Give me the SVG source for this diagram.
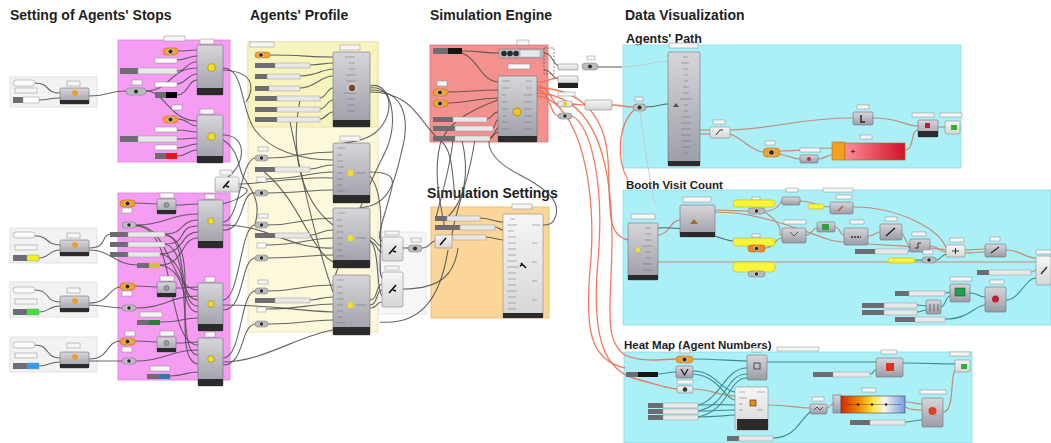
<svg xmlns="http://www.w3.org/2000/svg" width="1051" height="443" viewBox="0 0 1051 443">
<defs>
<linearGradient id="gc" x1="0" y1="0" x2="0" y2="1"><stop offset="0" stop-color="#d6d6da"/><stop offset="1" stop-color="#9c9ca6"/></linearGradient>
<linearGradient id="gw" x1="0" y1="0" x2="0" y2="1"><stop offset="0" stop-color="#f6f6f6"/><stop offset="1" stop-color="#d6d6d6"/></linearGradient>
<linearGradient id="gred" x1="0" y1="0" x2="1" y2="0"><stop offset="0" stop-color="#ff8c98"/><stop offset="1" stop-color="#d0122a"/></linearGradient>
<linearGradient id="gheat" x1="0" y1="0" x2="1" y2="0"><stop offset="0" stop-color="#d42a00"/><stop offset="0.3" stop-color="#f39000"/><stop offset="0.5" stop-color="#ffe640"/><stop offset="0.68" stop-color="#f6f4ec"/><stop offset="1" stop-color="#6f9de6"/></linearGradient>
<style>
.t{font-family:"Liberation Sans",Arial,sans-serif;font-weight:bold;fill:#1e1e1e}
.c{fill:url(#gc);stroke:#6e6e78;stroke-width:.6}
.cw{fill:url(#gw);stroke:#8a8a8a;stroke-width:.6}
.bar{fill:#2b2b2b}
.b{fill:#f6f6f6;stroke:#8c8c8c;stroke-width:.5}
.s{fill:#e8e8e8;stroke:#9a9a9a;stroke-width:.5}
.sk{fill:#6c6c72}
.k{fill:#f2a12c;stroke:#b06a10;stroke-width:.5}
.e{fill:#b9b9c0;stroke:#707078;stroke-width:.5}
.dot{fill:#2e2e2e;stroke:#fff;stroke-width:.6}
.p{fill:#fbfbfb;stroke:#8c8c8c;stroke-width:.5}
.y{fill:#fbf53a;stroke:#b0a820;stroke-width:.5}
.rows{fill:none;stroke:#5c5c64;stroke-width:.8;opacity:.55}
.w{fill:none;stroke:#4b4b4b;stroke-width:1.1;opacity:.85}
.wr{fill:none;stroke:#ef6e52;stroke-width:1.3;opacity:.9}
.wt{fill:none;stroke:#3d8e90;stroke-width:1.1}
.wb{fill:none;stroke:#c38e76;stroke-width:1.2}
.wl{fill:none;stroke:#c4c4c4;stroke-width:.8}
.grp{stroke-width:.8}
</style>
</defs>
<rect width="1051" height="443" fill="#ffffff"/>

<!-- titles -->
<g id="titles">
<text class="t" x="10" y="20" font-size="14">Setting of Agents' Stops</text>
<text class="t" x="250" y="20" font-size="14">Agents' Profile</text>
<text class="t" x="430" y="20" font-size="14">Simulation Engine</text>
<text class="t" x="625" y="20" font-size="14">Data Visualization</text>
<text class="t" x="626" y="43" font-size="12.5">Agents' Path</text>
<text class="t" x="427" y="198" font-size="14">Simulation Settings</text>
<text class="t" x="626" y="189" font-size="11.5">Booth Visit Count</text>
<text class="t" x="624" y="349" font-size="11.5">Heat Map (Agent Numbers)</text>
</g>

<!-- group backgrounds -->
<g id="groups">
<rect class="grp" x="10" y="77" width="87" height="30" fill="#f2f2f2" stroke="#dddddd"/>
<rect class="grp" x="10" y="228" width="87" height="35" fill="#f2f2f2" stroke="#dddddd"/>
<rect class="grp" x="10" y="282" width="87" height="35" fill="#f2f2f2" stroke="#dddddd"/>
<rect class="grp" x="10" y="337" width="87" height="35" fill="#f2f2f2" stroke="#dddddd"/>
<rect class="grp" x="118" y="40" width="112" height="122" fill="#f59cf3" stroke="#e080dc"/>
<rect class="grp" x="118" y="193" width="112" height="187" fill="#f59cf3" stroke="#e080dc"/>
<rect class="grp" x="248" y="42" width="130" height="290" fill="#fbf8dc" stroke="#e6e0a6"/>
<rect class="grp" x="248" y="42" width="130" height="85" fill="#f8f4c0" stroke="#e6e0a6"/>
<rect class="grp" x="378" y="232" width="48" height="82" fill="#f6f6f6" stroke="#e0e0e0"/>
<rect class="grp" x="430" y="45" width="118" height="97" fill="#f3918f" stroke="#e07474"/>
<rect class="grp" x="431" y="207" width="118" height="111" fill="#fcd699" stroke="#e8b860"/>
<rect class="grp" x="623" y="45" width="338" height="123" fill="#abeff7" stroke="#8fdbe6"/>
<rect class="grp" x="623" y="190" width="428" height="135" fill="#abeff7" stroke="#8fdbe6"/>
<rect class="grp" x="624" y="352" width="348" height="91" fill="#abeff7" stroke="#8fdbe6"/>
</g>

<!-- connectors -->
<g id="connectors">
<!-- left groups -->
<path class="w" d="M35,83 C50,83 45,93 60,93"/>
<path class="w" d="M39,100 C50,100 48,98 60,98"/>
<path class="w" d="M89,96 C108,96 108,91 126,91"/>
<path class="w" d="M35,236 C50,236 45,245 60,245"/>
<path class="w" d="M39,258 C50,258 48,250 60,250"/>
<path class="w" d="M89,248 C108,248 100,236 110,234"/>
<path class="w" d="M89,250 C112,250 112,264 137,265"/>
<path class="w" d="M35,290 C50,290 45,302 60,302"/>
<path class="w" d="M39,312 C50,312 48,306 60,306"/>
<path class="w" d="M89,303 C110,303 108,288 120,287"/>
<path class="w" d="M89,305 C105,305 108,308 122,308"/>
<path class="w" d="M35,345 C50,345 45,358 60,358"/>
<path class="w" d="M39,366 C50,366 48,362 60,362"/>
<path class="w" d="M89,359 C110,359 105,342 120,341"/>
<path class="w" d="M89,361 C105,361 108,361 122,361"/>
<!-- top magenta -->
<path class="w" d="M178,51 C188,51 188,50 197,50"/>
<path class="w" d="M177,60 C188,60 188,56 197,56"/>
<path class="w" d="M177,71 C188,71 185,62 197,62"/>
<path class="w" d="M146,91 C170,91 170,68 197,68"/>
<path class="w" d="M177,84 C185,84 188,74 197,74"/>
<path class="w" d="M177,95 C188,95 188,80 197,80"/>
<path class="w" d="M146,91 C165,91 170,121 197,121"/>
<path class="w" d="M178,119 C188,119 188,126 197,126"/>
<path class="w" d="M177,130 C188,130 188,132 197,132"/>
<path class="w" d="M177,139 C188,139 188,138 197,138"/>
<path class="w" d="M177,148 C188,148 188,144 197,144"/>
<path class="w" d="M177,156 C188,156 188,150 197,150"/>
<path class="w" d="M223,68 C245,68 240,110 255,130 C270,150 300,160 333,160"/>
<path class="w" d="M223,70 C262,72 250,96 246,102"/>
<path class="w" d="M223,135 C250,135 246,170 220,182"/>
<path class="w" d="M223,140 C240,150 238,170 244,178 C250,188 262,200 255,225"/>
<path class="w" d="M239,184 C262,184 300,176 333,178"/>
<path class="w" d="M239,187 C258,188 240,200 222,204"/>
<!-- bottom magenta -->
<path class="w" d="M135,203 C150,203 145,204 157,204"/>
<path class="w" d="M176,205 C188,205 186,204 198,204"/>
<path class="w" d="M136,225 C165,225 170,214 198,214"/>
<path class="w" d="M165,234 C185,234 180,220 198,220"/>
<path class="w" d="M165,244 C190,244 175,226 198,226"/>
<path class="w" d="M160,254 C185,254 180,232 198,232"/>
<path class="w" d="M160,265 C185,265 180,238 198,238"/>
<path class="w" d="M165,234 C190,240 175,300 198,300"/>
<path class="w" d="M165,244 C195,250 175,355 198,355"/>
<path class="w" d="M160,254 C190,260 180,306 198,306"/>
<path class="w" d="M165,235 C205,240 168,360 198,364"/>
<path class="w" d="M160,265 C190,270 180,312 198,312"/>
<path class="w" d="M136,225 C170,225 170,290 198,290"/>
<path class="w" d="M136,226 C178,226 165,345 198,345"/>
<path class="w" d="M135,286 C150,286 145,287 157,287"/>
<path class="w" d="M176,288 C188,288 186,287 198,287"/>
<path class="w" d="M136,308 C165,308 170,296 198,296"/>
<path class="w" d="M160,322 C185,322 180,318 198,318"/>
<path class="w" d="M135,341 C150,341 145,342 157,342"/>
<path class="w" d="M176,343 C188,343 188,342 198,342"/>
<path class="w" d="M136,361 C165,361 170,350 198,350"/>
<path class="w" d="M170,376 C185,376 185,372 198,372"/>
<path class="w" d="M223,222 C240,222 240,160 255,158"/>
<path class="w" d="M223,225 C270,225 290,250 333,248"/>
<path class="w" d="M223,305 C270,305 290,310 333,312"/>
<path class="w" d="M223,362 C262,362 300,335 333,330"/>
<path class="w" d="M223,300 C240,300 240,226 255,225"/>
<path class="w" d="M223,358 C242,358 240,292 255,291"/>
<path class="w" d="M223,230 C245,232 240,190 255,193"/>
<path class="w" d="M223,310 C245,310 240,260 255,258"/>
<path class="w" d="M223,365 C245,365 240,326 255,324"/>
<!-- profile -->
<path class="w" d="M270,55 C300,55 310,57 333,57"/>
<path class="w" d="M310,65 C320,65 325,63 333,63"/>
<path class="w" d="M300,76 C318,76 322,69 333,69"/>
<path class="w" d="M300,88 C315,88 320,76 333,76"/>
<path class="w" d="M320,98 C326,98 327,88 333,88"/>
<path class="w" d="M320,109 C326,109 327,100 333,100"/>
<path class="w" d="M320,119 C326,119 327,112 333,112"/>
<path class="w" d="M370,88 C395,85 395,120 372,135 C355,145 345,140 333,147"/>
<path class="w" d="M370,90 C405,90 410,120 402,150 C396,175 392,200 370,206 C350,210 345,212 333,213"/>
<path class="w" d="M370,86 C390,80 400,120 386,150 C380,165 372,170 333,282"/>
<path class="w" d="M268,158 C300,158 300,152 333,152"/>
<path class="w" d="M310,169 C320,169 320,165 333,165"/>
<path class="w" d="M266,179 C300,179 310,172 333,172"/>
<path class="w" d="M268,193 C300,193 310,190 333,190"/>
<path class="w" d="M268,225 C300,225 300,218 333,218"/>
<path class="w" d="M310,235 C320,235 320,230 333,230"/>
<path class="w" d="M266,245 C300,245 310,238 333,238"/>
<path class="w" d="M268,258 C300,258 310,255 333,255"/>
<path class="w" d="M268,291 C300,291 300,285 333,285"/>
<path class="w" d="M310,300 C320,300 320,297 333,297"/>
<path class="w" d="M266,309 C300,309 310,304 333,304"/>
<path class="w" d="M268,324 C300,324 310,320 333,320"/>
<path class="w" d="M290,122 C300,170 318,250 333,292"/>
<path class="w" d="M300,100 C290,150 300,200 333,225"/>
<path class="w" d="M262,170 C300,200 310,250 333,262"/>
<path class="w" d="M370,172 C395,172 395,180 390,195 C385,215 375,240 382,241"/>
<path class="w" d="M370,238 C376,238 376,246 382,246"/>
<path class="w" d="M370,242 C378,242 376,252 382,252"/>
<path class="w" d="M370,305 C378,305 376,290 382,290"/>
<path class="w" d="M370,300 C378,300 376,284 382,284"/>
<path class="w" d="M370,176 C390,200 375,270 382,278"/>
<path class="w" d="M370,240 C380,250 376,290 382,296"/>
<path class="w" d="M370,308 C378,308 376,302 382,302"/>
<path class="w" d="M403,248 C405,248 406,248 408,248"/>
<path class="w" d="M422,248 C430,248 430,241 435,241"/>
<path class="w" d="M403,289 C445,289 455,270 458,248"/>
<path class="w" d="M380,322 C420,325 440,300 448,250"/>
<path class="w" d="M370,92 C415,92 420,125 440,140 C450,148 452,160 455,200"/>
<!-- engine / settings -->
<path class="w" d="M462,51 C480,51 485,53 499,53"/>
<path class="w" d="M460,52 C480,60 480,80 498,82"/>
<path class="w" d="M448,92 C470,92 475,90 498,90"/>
<path class="w" d="M448,103 C470,103 475,98 498,98"/>
<path class="w" d="M487,119 C492,119 492,112 498,112"/>
<path class="w" d="M493,128 C495,128 495,120 498,120"/>
<path class="w" d="M490,138 C495,138 495,128 498,128"/>
<path class="w" d="M544,53 C552,53 552,62 558,66"/>
<path class="w" d="M544,70 C552,70 552,78 558,79"/>
<path class="w" d="M453,140 C450,170 440,200 436,218"/>
<path class="w" d="M462,140 C470,175 465,200 447,218"/>
<path class="w" d="M475,138 C470,180 455,210 452,235"/>
<path class="w" d="M498,100 C470,110 445,125 440,145 C434,170 438,195 445,228"/>
<path class="w" d="M498,132 C480,140 490,160 520,175 C545,188 560,200 556,215 C553,225 548,225 543,225"/>
<path class="w" d="M480,218 C490,218 495,222 503,222"/>
<path class="w" d="M495,227 C498,227 500,230 503,230"/>
<path class="w" d="M486,237 C494,237 496,240 503,240"/>
<path class="w" d="M598,67 C610,67 615,67 622,67"/>
<path class="wl" d="M622,67 C650,66 655,60 668,62"/>
<path class="wl" d="M640,112 C645,150 650,180 655,205"/>
<!-- red engine outputs -->
<path class="wr" d="M537,82 C548,82 550,78 558,78"/>
<path class="wr" d="M537,86 C550,86 552,104 558,104"/>
<path class="wr" d="M537,90 C550,90 550,115 558,116"/>
<path class="wr" d="M572,104 C578,104 580,105 585,105"/>
<path class="wr" d="M612,105 C620,105 625,107 633,107"/>
<path class="wr" d="M537,88 C575,88 605,110 608,160 C611,205 605,235 628,240"/>
<path class="wr" d="M537,93 C590,95 612,150 612,240 C612,300 602,340 625,355 C640,362 660,360 676,359"/>
<path class="wr" d="M572,116 C590,125 605,180 598,260 C592,330 600,372 640,380 C655,384 665,388 677,389"/>
<path class="wr" d="M537,96 C580,100 598,190 590,270 C585,330 590,360 625,368" opacity=".55"/>
<path class="wr" d="M634,110 C618,125 616,160 628,180" opacity=".35"/>
<!-- agents' path -->
<path class="w" d="M646,107 C658,107 660,104 668,104"/>
<path class="wb" d="M700,130 C705,130 705,130 710,130"/>
<path class="wb" d="M700,134 C705,134 705,134 710,134"/>
<path class="wb" d="M730,130 C780,128 800,118 853,118"/>
<path class="wb" d="M730,134 C745,140 750,150 763,152"/>
<path class="wb" d="M780,151 C800,151 815,148 832,148"/>
<path class="wb" d="M780,154 C795,158 795,159 800,159"/>
<path class="wb" d="M818,159 C825,159 826,155 832,155"/>
<path class="wb" d="M873,118 C900,118 905,126 918,126"/>
<path class="wb" d="M905,150 C915,150 910,130 918,130"/>
<path class="wb" d="M938,127 C942,127 942,127 945,127"/>
<!-- booth -->
<path class="wb" d="M657,235 C670,235 670,220 680,220"/>
<path class="wb" d="M657,262 C800,262 900,262 1036,262"/>
<path class="wb" d="M715,210 C730,210 735,211 748,211"/>
<path class="wb" d="M715,212 C760,212 800,230 830,240 C850,245 920,245 946,250"/>
<path class="wb" d="M765,211 C780,211 780,201 782,201"/>
<path class="wb" d="M800,201 C815,201 815,207 830,207"/>
<path class="wb" d="M765,212 C790,230 775,235 782,235"/>
<path class="wb" d="M765,248 C775,248 775,238 782,238"/>
<path class="wb" d="M806,235 C812,235 812,228 817,228"/>
<path class="wb" d="M835,227 C840,227 840,235 844,235"/>
<path class="wb" d="M853,207 C900,207 940,230 946,248"/>
<path class="wb" d="M868,236 C875,236 875,232 880,232"/>
<path class="wb" d="M900,232 C905,232 905,245 910,245"/>
<path class="wt" d="M908,251 C915,251 905,245 910,247"/>
<path class="wb" d="M930,246 C938,246 940,252 946,252"/>
<path class="wt" d="M936,260 C940,260 942,255 946,254"/>
<path class="wt" d="M915,260 C918,260 919,260 922,260"/>
<path class="wb" d="M965,250 C975,250 975,249 985,249"/>
<path class="wb" d="M965,253 C975,253 975,252 985,252"/>
<path class="wb" d="M1006,250 C1020,250 1025,258 1036,258"/>
<path class="wb" d="M1031,272 C1034,272 1034,270 1036,270"/>
<path class="wt" d="M970,293 C978,293 978,297 985,297"/>
<path class="wt" d="M1006,300 C1020,300 1025,278 1036,278"/>
<path class="wt" d="M945,293 C948,293 948,292 950,292"/>
<path class="wt" d="M917,305 C922,305 922,306 926,306"/>
<path class="wt" d="M917,312 C922,312 922,310 926,310"/>
<path class="wt" d="M941,307 C945,307 946,296 950,296"/>
<path class="wt" d="M945,319 C970,319 975,305 985,305"/>
<path class="w" d="M657,228 C700,226 720,240 733,241"/>
<!-- heat map -->
<path class="wt" d="M693,359 C720,359 730,361 747,361"/>
<path class="wt" d="M767,362 C820,362 850,362 876,362"/>
<path class="wt" d="M903,363 C930,363 940,364 955,364"/>
<path class="wt" d="M693,371 C715,371 720,390 735,392"/>
<path class="wt" d="M693,374 C720,376 725,400 735,400"/>
<path class="wt" d="M658,374 C665,374 668,372 676,372"/>
<path class="wb" d="M693,389 C710,389 720,396 735,396"/>
<path class="wt" d="M698,405 C715,405 720,404 735,405"/>
<path class="wt" d="M698,411 C715,411 720,410 735,410"/>
<path class="wt" d="M698,417 C715,417 720,416 735,415"/>
<path class="wt" d="M698,405 C720,400 725,368 747,368"/>
<path class="wt" d="M698,411 C728,405 725,374 747,374"/>
<path class="wt" d="M698,417 C730,410 728,378 747,378"/>
<path class="wb" d="M768,405 C790,405 795,408 810,408"/>
<path class="wt" d="M773,438 C795,438 800,420 810,412"/>
<path class="wb" d="M827,408 C830,408 830,404 833,404"/>
<path class="wb" d="M905,402 C915,402 915,404 922,404"/>
<path class="wb" d="M905,407 C912,410 915,410 922,410"/>
<path class="wt" d="M870,374 C875,374 872,370 876,370"/>
<path class="wt" d="M905,422 C912,422 915,420 922,420"/>
<path class="wb" d="M943,412 C955,412 950,375 955,370"/>
</g>

<!-- ===== Setting of Agents' Stops ===== -->
<g id="stops-colour-a">
<rect class="p" x="13" y="80" width="22" height="6" rx="3"/>
<rect class="b" x="15" y="88" width="22" height="5"/>
<rect class="sk" x="13" y="97" width="10" height="6"/><rect x="23" y="97" width="16" height="6" fill="#ffffff" stroke="#999" stroke-width=".5"/>
<rect class="b" x="67" y="81" width="13" height="5"/>
<rect class="c" x="60" y="88" width="29" height="16" rx="1.5"/><rect class="bar" x="60" y="100" width="29" height="4"/>
<circle cx="75" cy="93" r="3" fill="#f0a030"/>
</g>
<g id="stops-colour-b">
<rect class="p" x="13" y="232" width="22" height="6" rx="3"/>
<rect class="b" x="15" y="245" width="22" height="5"/>
<rect class="sk" x="13" y="255" width="14" height="6"/><rect x="27" y="255" width="12" height="6" fill="#f3f020" stroke="#999" stroke-width=".5"/>
<rect class="b" x="67" y="233" width="13" height="5"/>
<rect class="c" x="60" y="240" width="29" height="16" rx="1.5"/><rect class="bar" x="60" y="252" width="29" height="4"/>
<circle cx="75" cy="245" r="3" fill="#f0a030"/>
</g>
<g id="stops-colour-c">
<rect class="p" x="13" y="287" width="22" height="6" rx="3"/>
<rect class="b" x="15" y="299" width="22" height="5"/>
<rect class="sk" x="13" y="309" width="14" height="6"/><rect x="27" y="309" width="12" height="6" fill="#3de23d" stroke="#999" stroke-width=".5"/>
<rect class="b" x="67" y="288" width="13" height="5"/>
<rect class="c" x="60" y="296" width="29" height="16" rx="1.5"/><rect class="bar" x="60" y="308" width="29" height="4"/>
<circle cx="75" cy="301" r="3" fill="#f0a030"/>
</g>
<g id="stops-colour-d">
<rect class="p" x="13" y="342" width="22" height="6" rx="3"/>
<rect class="b" x="15" y="353" width="22" height="5"/>
<rect class="sk" x="13" y="363" width="14" height="6"/><rect x="27" y="363" width="12" height="6" fill="#2f9cf0" stroke="#999" stroke-width=".5"/>
<rect class="b" x="67" y="343" width="13" height="5"/>
<rect class="c" x="60" y="352" width="29" height="16" rx="1.5"/><rect class="bar" x="60" y="364" width="29" height="4"/>
<circle cx="75" cy="357" r="3" fill="#f0a030"/>
</g>

<g id="stops-top">
<rect class="b" x="164" y="36" width="21" height="5"/>
<rect class="k" x="163" y="48" width="15" height="7" rx="3.5"/><circle class="dot" cx="170.5" cy="51.5" r="2.5"/>
<rect class="p" x="155" y="58" width="22" height="5"/>
<rect class="sk" x="120" y="68" width="18" height="6"/><rect class="s" x="138" y="68" width="39" height="6"/>
<rect class="b" x="132" y="80" width="10" height="5"/>
<rect class="e" x="126" y="88" width="20" height="7" rx="3.5"/><circle class="dot" cx="136" cy="91.5" r="2.5"/>
<rect class="p" x="155" y="82" width="22" height="5"/>
<rect class="sk" x="155" y="92" width="11" height="6"/><rect x="166" y="92" width="11" height="6" fill="#000"/>
<rect class="b" x="200" y="39" width="14" height="5"/>
<rect class="c" x="197" y="45" width="26" height="50" rx="1.5"/><rect class="bar" x="197" y="88" width="26" height="7"/>
<rect x="208" y="64" width="7" height="7" rx="2" fill="#f5e020" stroke="#8a7a10" stroke-width=".5"/>
<rect class="b" x="172" y="105" width="10" height="5"/>
<rect class="k" x="163" y="116" width="15" height="7" rx="3.5"/><circle class="dot" cx="170.5" cy="119.5" r="2.5"/>
<rect class="p" x="155" y="127" width="22" height="5"/>
<rect class="sk" x="120" y="136" width="18" height="6"/><rect class="s" x="138" y="136" width="39" height="6"/>
<rect class="p" x="155" y="145" width="22" height="5"/>
<rect class="sk" x="155" y="153" width="11" height="6"/><rect x="166" y="153" width="11" height="6" fill="#e8141e"/>
<rect class="b" x="200" y="109" width="14" height="5"/>
<rect class="c" x="197" y="115" width="26" height="48" rx="1.5"/><rect class="bar" x="197" y="156" width="26" height="7"/>
<rect x="208" y="133" width="7" height="7" rx="2" fill="#f5e020" stroke="#8a7a10" stroke-width=".5"/>
</g>

<g id="stops-merge">
<rect class="b" x="220" y="170" width="12" height="5"/>
<rect class="cw" x="215" y="177" width="24" height="15" rx="1.5"/>
<path d="M223,188 L229,181 M226,186 l3,1" stroke="#111" stroke-width="1.6" fill="none"/>
</g>

<g id="stops-bottom">
<rect class="k" x="120" y="200" width="15" height="7" rx="3.5"/><circle class="dot" cx="127.5" cy="203.5" r="2.5"/>
<rect class="p" x="122" y="208" width="10" height="5"/>
<rect class="b" x="160" y="193" width="14" height="5"/>
<rect class="c" x="157" y="199" width="19" height="15" rx="1.5"/><rect class="bar" x="157" y="210" width="19" height="4"/>
<circle cx="166.5" cy="205" r="2.5" fill="#9a9aa6" stroke="#555" stroke-width=".5"/>
<rect class="e" x="122" y="222" width="14" height="6" rx="3"/><circle class="dot" cx="129" cy="225" r="2.2"/>
<rect class="sk" x="110" y="232" width="18" height="5"/><rect class="s" x="128" y="232" width="37" height="5"/>
<rect class="sk" x="110" y="242" width="18" height="5"/><rect class="s" x="128" y="242" width="37" height="5"/>
<rect class="sk" x="110" y="252" width="18" height="5"/><rect class="s" x="128" y="252" width="32" height="5"/>
<rect class="sk" x="137" y="263" width="12" height="5"/><rect x="149" y="263" width="11" height="5" fill="#cfc040"/>
<rect class="b" x="205" y="194" width="10" height="5"/>
<rect class="c" x="198" y="200" width="25" height="48" rx="1.5"/><rect class="bar" x="198" y="241" width="25" height="7"/>
<rect x="208" y="218" width="6" height="6" rx="2" fill="#f5e020" stroke="#8a7a10" stroke-width=".5"/>

<rect class="k" x="120" y="283" width="15" height="7" rx="3.5"/><circle class="dot" cx="127.5" cy="286.5" r="2.5"/>
<rect class="p" x="122" y="291" width="10" height="5"/>
<rect class="b" x="160" y="276" width="14" height="5"/>
<rect class="c" x="157" y="282" width="19" height="15" rx="1.5"/><rect class="bar" x="157" y="293" width="19" height="4"/>
<circle cx="166.5" cy="288" r="2.5" fill="#9a9aa6" stroke="#555" stroke-width=".5"/>
<rect class="e" x="122" y="305" width="14" height="6" rx="3"/><circle class="dot" cx="129" cy="308" r="2.2"/>
<rect class="b" x="140" y="312" width="22" height="5"/>
<rect class="sk" x="137" y="320" width="12" height="5"/><rect x="149" y="320" width="11" height="5" fill="#2b7a35"/>
<rect class="b" x="205" y="277" width="10" height="5"/>
<rect class="c" x="198" y="283" width="25" height="48" rx="1.5"/><rect class="bar" x="198" y="324" width="25" height="7"/>
<rect x="208" y="301" width="6" height="6" rx="2" fill="#f5e020" stroke="#8a7a10" stroke-width=".5"/>

<rect class="b" x="125" y="331" width="10" height="5"/>
<rect class="k" x="120" y="338" width="15" height="7" rx="3.5"/><circle class="dot" cx="127.5" cy="341.5" r="2.5"/>
<rect class="p" x="122" y="347" width="10" height="5"/>
<rect class="b" x="160" y="331" width="14" height="5"/>
<rect class="c" x="157" y="337" width="19" height="15" rx="1.5"/><rect class="bar" x="157" y="348" width="19" height="4"/>
<circle cx="166.5" cy="343" r="2.5" fill="#9a9aa6" stroke="#555" stroke-width=".5"/>
<rect class="e" x="122" y="358" width="14" height="6" rx="3"/><circle class="dot" cx="129" cy="361" r="2.2"/>
<rect class="b" x="150" y="366" width="20" height="5"/>
<rect class="sk" x="147" y="374" width="12" height="5"/><rect x="159" y="374" width="11" height="5" fill="#2a7fa8"/>
<rect class="b" x="205" y="332" width="10" height="5"/>
<rect class="c" x="198" y="338" width="25" height="48" rx="1.5"/><rect class="bar" x="198" y="379" width="25" height="7"/>
<rect x="208" y="356" width="6" height="6" rx="2" fill="#f5e020" stroke="#8a7a10" stroke-width=".5"/>
</g>

<!-- ===== Agents' Profile ===== -->
<g id="profile-inputs">
<rect class="b" x="250" y="42" width="24" height="5"/>
<rect class="k" x="255" y="52" width="15" height="6" rx="3"/><circle class="dot" cx="261" cy="55" r="2.3"/>
<rect class="sk" x="255" y="63" width="20" height="5"/><rect class="s" x="275" y="63" width="35" height="5"/>
<rect class="sk" x="255" y="74" width="12" height="5"/><rect class="s" x="267" y="74" width="33" height="5"/>
<rect class="sk" x="255" y="86" width="14" height="5"/><rect class="s" x="269" y="86" width="31" height="5"/>
<rect class="sk" x="255" y="96" width="22" height="5"/><rect class="s" x="277" y="96" width="43" height="5"/>
<rect class="sk" x="255" y="107" width="22" height="5"/><rect class="s" x="277" y="107" width="43" height="5"/>
<rect class="sk" x="255" y="117" width="22" height="5"/><rect class="s" x="277" y="117" width="43" height="5"/>
</g>
<g id="profile-comp-1">
<rect class="b" x="340" y="45" width="20" height="5"/>
<rect class="c" x="333" y="52" width="37" height="75" rx="1.5"/><rect class="bar" x="333" y="120" width="37" height="7"/>
<path class="rows" d="M345,57h10M349,63h6M349,69h6M346,75h10M346,81h10M348,87h5M344,93h12M348,99h6M348,105h6M347,111h8"/>
<circle cx="352" cy="88" r="4" fill="#7a4a28" stroke="#fff" stroke-width=".8"/>
</g>
<g id="profile-stop-inputs">
<rect class="b" x="258" y="147" width="10" height="4"/>
<rect class="e" x="255" y="155" width="13" height="6" rx="3"/><circle class="dot" cx="261.5" cy="158" r="2.2"/>
<rect class="sk" x="255" y="167" width="20" height="5"/><rect class="s" x="275" y="167" width="35" height="5"/>
<rect class="p" x="257" y="177" width="9" height="5"/>
<rect class="e" x="255" y="190" width="13" height="6" rx="3"/><circle class="dot" cx="261.5" cy="193" r="2.2"/>
<rect class="b" x="258" y="214" width="10" height="4"/>
<rect class="e" x="255" y="222" width="13" height="6" rx="3"/><circle class="dot" cx="261.5" cy="225" r="2.2"/>
<rect class="sk" x="255" y="233" width="20" height="5"/><rect class="s" x="275" y="233" width="35" height="5"/>
<rect class="p" x="257" y="243" width="9" height="5"/>
<rect class="e" x="255" y="255" width="13" height="6" rx="3"/><circle class="dot" cx="261.5" cy="258" r="2.2"/>
<rect class="b" x="258" y="280" width="10" height="4"/>
<rect class="e" x="255" y="288" width="13" height="6" rx="3"/><circle class="dot" cx="261.5" cy="291" r="2.2"/>
<rect class="sk" x="255" y="298" width="20" height="5"/><rect class="s" x="275" y="298" width="35" height="5"/>
<rect class="p" x="257" y="307" width="9" height="5"/>
<rect class="e" x="255" y="321" width="13" height="6" rx="3"/><circle class="dot" cx="261.5" cy="324" r="2.2"/>
</g>
<g id="profile-comp-2">
<rect class="b" x="340" y="136" width="20" height="5"/>
<rect class="c" x="333" y="143" width="37" height="60" rx="1.5"/><rect class="bar" x="333" y="195" width="37" height="8"/>
<path class="rows" d="M337,148h8M337,155h5M337,161h6M337,167h7M337,173h6M337,179h6M337,185h5M337,191h8M356,173h10"/>
<rect x="348" y="170" width="5" height="6" rx="1.5" fill="#f5e020"/>
</g>
<g id="profile-comp-3">
<rect class="c" x="333" y="208" width="37" height="60" rx="1.5"/><rect class="bar" x="333" y="260" width="37" height="8"/>
<path class="rows" d="M337,213h8M337,220h5M337,226h6M337,232h7M337,238h6M337,244h6M337,250h5M337,256h8M356,238h10"/>
<rect x="348" y="235" width="5" height="6" rx="1.5" fill="#f5e020"/>
</g>
<g id="profile-comp-4">
<rect class="c" x="333" y="275" width="37" height="60" rx="1.5"/><rect class="bar" x="333" y="327" width="37" height="8"/>
<path class="rows" d="M337,280h8M337,287h5M337,293h6M337,299h7M337,305h6M337,311h6M337,317h5M337,323h8M356,305h10"/>
<rect x="348" y="302" width="5" height="6" rx="1.5" fill="#f5e020"/>
</g>
<g id="merge-1">
<rect class="b" x="385" y="231" width="14" height="4"/>
<rect class="cw" x="382" y="237" width="21" height="24" rx="1.5"/>
<path d="M389,254 L396,246 M393,251 l3,1" stroke="#111" stroke-width="1.6" fill="none"/>
</g>
<g id="merge-2">
<rect class="b" x="385" y="266" width="14" height="4"/>
<rect class="cw" x="382" y="272" width="21" height="35" rx="1.5"/>
<path d="M389,293 L396,285 M393,290 l3,1" stroke="#111" stroke-width="1.6" fill="none"/>
</g>
<g id="merge-out">
<rect class="b" x="411" y="238" width="10" height="4"/>
<rect class="e" x="408" y="245" width="14" height="7" rx="3.5"/><circle class="dot" cx="415" cy="248.5" r="2.5"/>
</g>

<!-- ===== Simulation Engine ===== -->
<g id="engine-inputs">
<rect class="sk" x="433" y="48" width="15" height="6" fill="#777"/><rect x="448" y="48" width="14" height="6" fill="#151515"/>
<rect class="b" x="517" y="40" width="12" height="5"/>
<rect class="e" x="499" y="49" width="45" height="9" rx="2"/>
<circle cx="504" cy="53.5" r="2.8" fill="#2a2a2a"/><circle cx="510" cy="53.5" r="2.8" fill="#2a2a2a"/><circle cx="516" cy="53.5" r="2.8" fill="#2a2a2a"/>
<rect class="s" x="520" y="50" width="20" height="7"/>
<rect class="b" x="437" y="81" width="10" height="5"/>
<rect class="k" x="433" y="89" width="15" height="7" rx="3.5"/><circle class="dot" cx="440" cy="92.5" r="2.5"/>
<rect class="k" x="433" y="100" width="15" height="7" rx="3.5"/><circle class="dot" cx="440" cy="103.5" r="2.5"/>
<rect class="sk" x="433" y="117" width="20" height="5"/><rect class="s" x="453" y="117" width="34" height="5"/>
<rect class="sk" x="433" y="126" width="22" height="5"/><rect class="s" x="455" y="126" width="38" height="5"/>
<rect class="sk" x="433" y="136" width="22" height="5"/><rect class="s" x="455" y="136" width="35" height="5"/>
</g>
<g id="engine-core">
<rect class="b" x="508" y="64" width="22" height="5"/>
<rect class="c" x="498" y="76" width="39" height="66" rx="1.5"/><rect class="bar" x="498" y="136" width="39" height="6"/>
<path class="rows" d="M502,81h8M502,88h7M502,95h4M502,102h5M502,109h6M502,116h4M502,122h6M502,129h7M526,81h6M526,88h5M524,95h8M524,102h8M524,109h8M524,116h8M524,122h8M524,129h8"/>
<circle cx="517" cy="112" r="4" fill="#f5c518" stroke="#8a6a00" stroke-width=".5"/>
</g>
<g id="engine-outputs">
<rect x="544" y="48" width="10" height="26" fill="none" stroke="#555" stroke-width=".7" stroke-dasharray="2,1.5"/>
<rect class="cw" x="558" y="64" width="20" height="6" rx="1"/>
<rect class="b" x="587" y="56" width="8" height="4"/>
<rect class="e" x="582" y="63" width="16" height="7" rx="3.5"/><circle class="dot" cx="590" cy="66.5" r="2.5"/>
<rect class="cw" x="558" y="76" width="20" height="7" rx="1"/><rect x="558" y="83" width="20" height="5" fill="#222"/>
<rect class="b" x="558" y="92" width="17" height="4"/>
<rect class="cw" x="558" y="101" width="14" height="6" rx="1"/><rect x="563" y="102" width="4" height="4" fill="#e8d020"/>
<rect class="cw" x="585" y="100" width="27" height="10" rx="1"/>
<rect class="e" x="558" y="113" width="14" height="6" rx="3"/><circle class="dot" cx="565" cy="116" r="2.2"/>
</g>

<!-- ===== Simulation Settings ===== -->
<g id="settings-inputs">
<rect class="sk" x="435" y="216" width="12" height="5"/><rect class="s" x="447" y="216" width="33" height="5"/>
<rect class="sk" x="435" y="225" width="25" height="5"/><rect class="s" x="460" y="225" width="35" height="5"/>
<rect class="cw" x="435" y="235" width="17" height="13" rx="1"/>
<path d="M440,245 L446,238" stroke="#111" stroke-width="1.5"/>
<rect class="s" x="453" y="235" width="33" height="5"/>
</g>
<g id="settings-core">
<rect class="b" x="512" y="204" width="20" height="5"/>
<rect class="cw" x="503" y="214" width="40" height="104" rx="1.5"/><rect class="bar" x="503" y="313" width="40" height="5"/>
<path class="rows" d="M510,219h5M507,225h10M508,231h6M508,237h8M508,243h8M508,249h8M508,255h8M507,261h10M507,267h12M508,273h8M508,279h8M508,285h8M507,291h10M508,297h8M508,303h8M508,309h8M532,225h8M532,243h5M532,262h5M532,281h5M532,300h5"/>
<path d="M521,263 l5,5 M520,266 l3,-2" stroke="#111" stroke-width="1.6" fill="none"/>
</g>

<!-- ===== Agents' Path ===== -->
<g id="path-deconstruct">
<rect class="b" x="669" y="43" width="29" height="5"/>
<rect class="c" x="668" y="52" width="32" height="114" rx="1.5"/><rect class="bar" x="668" y="161" width="32" height="5"/>
<path class="rows" d="M683,57h5M681,63h8M683,69h5M684,75h4M684,81h4M683,87h6M683,93h6M680,99h12M684,105h4M684,111h4M682,117h8M681,123h10M681,129h10M681,135h10M682,141h8M682,147h8M684,153h4"/>
<path d="M673,107 l3,-4 l3,4 z" fill="#555"/>
</g>
<g id="path-input">
<rect class="b" x="635" y="97" width="8" height="4"/>
<rect class="e" x="633" y="104" width="13" height="7" rx="3.5"/><circle class="dot" cx="639.5" cy="107.5" r="2.5"/>
</g>
<g id="path-nodes">
<rect class="b" x="713" y="120" width="12" height="4"/>
<rect class="cw" x="710" y="127" width="20" height="11" rx="1.5"/>
<path d="M716,135 l4,-5 h3" stroke="#333" stroke-width="1" fill="none"/>
<rect class="b" x="857" y="105" width="12" height="4"/>
<rect class="c" x="853" y="112" width="20" height="13" rx="1.5"/>
<path d="M861,115 v7 h4" stroke="#222" stroke-width="1.4" fill="none"/>
<rect class="b" x="765" y="141" width="10" height="4"/>
<rect class="k" x="763" y="148" width="17" height="9" rx="4"/><circle class="dot" cx="771.5" cy="152.5" r="2.8"/>
<rect class="b" x="800" y="148" width="20" height="4"/>
<rect class="c" x="800" y="155" width="18" height="8" rx="1.5"/><circle cx="809" cy="159" r="2" fill="#c03040"/>
<rect class="b" x="860" y="135" width="12" height="4"/>
<rect x="832" y="142" width="13" height="18" fill="#f5a020" stroke="#b0680a" stroke-width=".5"/>
<rect x="845" y="143" width="60" height="17" fill="url(#gred)" stroke="#b0680a" stroke-width=".6"/>
<path d="M851,151.5 h4 M853,149.5 v4" stroke="#222" stroke-width=".8"/>
<rect class="b" x="912" y="113" width="22" height="4"/>
<rect class="c" x="918" y="120" width="20" height="17" rx="1.5"/><rect class="bar" x="918" y="131" width="20" height="6"/>
<rect x="925" y="123" width="5" height="5" fill="#b02030"/>
<rect class="b" x="940" y="113" width="22" height="4"/>
<rect class="cw" x="945" y="121" width="15" height="13" rx="1.5"/><rect x="951" y="125" width="6" height="5" fill="#30b030"/>
</g>

<!-- ===== Booth Visit Count ===== -->
<g id="booth-deconstruct">
<rect class="b" x="631" y="214" width="24" height="5"/>
<rect class="c" x="628" y="223" width="30" height="57" rx="1.5"/><rect class="bar" x="628" y="275" width="30" height="5"/>
<path class="rows" d="M645,228h6M645,234h6M645,240h6M643,246h9M645,252h6M645,258h6M643,264h9M643,270h9"/>
<rect x="636" y="248" width="4" height="4" fill="#f5e020"/>
</g>
<g id="booth-select">
<rect class="b" x="683" y="197" width="28" height="5"/>
<rect class="c" x="680" y="205" width="35" height="32" rx="1.5"/><rect class="bar" x="680" y="232" width="35" height="5"/>
<path d="M690,224 l4,-5 l4,5 z" fill="#a07020"/>
</g>
<g id="booth-panels">
<rect class="b" x="752" y="197" width="8" height="3"/>
<rect class="y" x="733" y="200" width="42" height="7" rx="3"/>
<rect class="e" x="748" y="208" width="17" height="6" rx="3"/><circle class="dot" cx="756.5" cy="211" r="2.2"/>
<rect class="b" x="752" y="234" width="8" height="3"/>
<rect class="y" x="733" y="238" width="42" height="8" rx="3"/>
<rect x="748" y="245" width="17" height="7" rx="3" fill="#f08a20" stroke="#a05a10" stroke-width=".5"/><circle class="dot" cx="756.5" cy="248.5" r="2.3"/>
<rect class="y" x="733" y="262" width="42" height="10" rx="3"/>
<rect class="e" x="748" y="271" width="17" height="6" rx="3"/><circle class="dot" cx="756.5" cy="274" r="2.2"/>
</g>
<g id="booth-chain">
<rect class="b" x="786" y="188" width="12" height="4"/>
<rect class="c" x="782" y="197" width="18" height="8" rx="1.5"/>
<rect class="y" x="808" y="204" width="16" height="5" rx="2.5"/>
<rect class="b" x="823" y="188" width="30" height="4"/>
<rect class="b" x="836" y="195" width="16" height="4"/>
<rect class="c" x="830" y="202" width="23" height="12" rx="1.5"/><path d="M838,211 l5,-5" stroke="#c06020" stroke-width="1.5"/>
<rect class="b" x="784" y="220" width="22" height="4"/>
<rect class="c" x="782" y="228" width="24" height="15" rx="1.5"/><path d="M790,232 l4,4 l4,-4" stroke="#555" stroke-width="1" fill="none"/>
<rect class="c" x="817" y="222" width="18" height="10" rx="1.5"/><rect x="822" y="224" width="7" height="6" fill="#30a040"/>
<rect class="b" x="850" y="220" width="14" height="4"/>
<rect class="c" x="844" y="228" width="24" height="17" rx="1.5"/><path d="M851,237 h10" stroke="#333" stroke-width="1.5" stroke-dasharray="2,1"/>
<rect class="b" x="885" y="217" width="12" height="4"/>
<rect class="c" x="880" y="224" width="22" height="16" rx="1.5"/><path d="M886,236 l9,-8" stroke="#222" stroke-width="1.5"/>
<rect class="b" x="912" y="232" width="14" height="4"/>
<rect class="c" x="910" y="239" width="20" height="13" rx="1.5"/><path d="M915,248 h3 v-5 h3" stroke="#333" stroke-width="1" fill="none"/>
<rect class="sk" x="855" y="249" width="20" height="5"/><rect class="s" x="875" y="249" width="33" height="5"/>
<rect class="y" x="888" y="258" width="27" height="5" rx="2.5"/>
<rect class="b" x="923" y="250" width="10" height="4"/>
<rect class="e" x="922" y="257" width="14" height="6" rx="3"/><circle class="dot" cx="929" cy="260" r="2.2"/>
<rect class="b" x="950" y="238" width="14" height="4"/>
<rect class="cw" x="946" y="245" width="19" height="12" rx="1.5"/><path d="M952,251 h7 M955.5,248 v6" stroke="#333" stroke-width="1"/>
<rect class="b" x="990" y="237" width="10" height="4"/>
<rect class="c" x="985" y="244" width="21" height="13" rx="1.5"/><path d="M991,253 l8,-6" stroke="#333" stroke-width="1.3"/>
</g>
<g id="booth-output">
<rect class="b" x="1036" y="250" width="15" height="4"/>
<rect class="cw" x="1036" y="256" width="15" height="29" rx="1.5"/><path d="M1041,274 l6,-7" stroke="#333" stroke-width="1.5"/>
<rect class="sk" x="977" y="270" width="12" height="5"/><rect class="s" x="989" y="270" width="42" height="5"/>
<rect class="b" x="950" y="277" width="22" height="4"/>
<rect class="c" x="950" y="284" width="20" height="18" rx="1.5"/><rect x="955" y="288" width="10" height="8" fill="#20a050" stroke="#0a5020" stroke-width=".5"/>
<rect class="b" x="990" y="280" width="14" height="4"/>
<rect class="c" x="985" y="287" width="21" height="25" rx="1.5"/><circle cx="995.5" cy="299" r="3.5" fill="#c02030"/>
<rect class="sk" x="895" y="291" width="14" height="5"/><rect class="s" x="909" y="291" width="36" height="5"/>
<rect class="sk" x="862" y="303" width="22" height="5"/><rect class="s" x="884" y="303" width="33" height="5"/>
<rect class="sk" x="862" y="310" width="22" height="5"/><rect class="s" x="884" y="310" width="33" height="5"/>
<rect class="c" x="926" y="300" width="15" height="14" rx="1.5"/><path d="M930,304 v7 M934,304 v7 M938,304 v7" stroke="#555" stroke-width=".8"/>
<rect class="sk" x="895" y="317" width="20" height="5"/><rect class="s" x="915" y="317" width="30" height="5"/>
</g>

<!-- ===== Heat Map ===== -->
<g id="heat-inputs">
<rect class="b" x="777" y="347" width="42" height="4"/>
<rect class="b" x="680" y="349" width="10" height="4"/>
<rect class="k" x="676" y="356" width="17" height="7" rx="3.5"/><circle class="dot" cx="684.5" cy="359.5" r="2.5"/>
<rect class="c" x="676" y="366" width="17" height="12" rx="1.5"/><path d="M681,369 l3.5,6 l3.5,-6" stroke="#222" stroke-width="1.3" fill="none"/>
<rect class="sk" x="626" y="372" width="12" height="5"/><rect x="638" y="372" width="20" height="5" fill="#151515"/>
<rect class="b" x="677" y="380" width="16" height="4"/>
<rect class="cw" x="677" y="386" width="16" height="7" rx="2"/><circle cx="685" cy="389.5" r="2.3" fill="#333"/>
<rect class="sk" x="648" y="403" width="15" height="5"/><rect class="s" x="663" y="403" width="35" height="5"/>
<rect class="sk" x="648" y="409" width="15" height="5"/><rect class="s" x="663" y="409" width="35" height="5"/>
<rect class="sk" x="648" y="415" width="15" height="5"/><rect class="s" x="663" y="415" width="35" height="5"/>
<rect class="sk" x="727" y="436" width="12" height="5"/><rect class="s" x="739" y="436" width="34" height="5"/>
</g>
<g id="heat-grid">
<rect class="b" x="752" y="348" width="10" height="4"/>
<rect class="c" x="747" y="355" width="20" height="25" rx="1.5"/><rect x="754" y="363" width="6" height="6" fill="none" stroke="#333" stroke-width=".8"/>
</g>
<g id="heat-core">
<rect class="cw" x="735" y="387" width="33" height="43" rx="1.5"/><rect class="bar" x="737" y="419" width="31" height="11"/>
<path class="rows" d="M739,392h6M739,398h8M739,404h4M739,410h4M757,392h8M757,410h6"/>
<rect x="750" y="400" width="6" height="6" fill="#f08a10" stroke="#333" stroke-width=".6"/>
</g>
<g id="heat-gradient">
<rect class="b" x="812" y="397" width="12" height="4"/>
<rect class="c" x="810" y="404" width="17" height="10" rx="1.5"/><path d="M814,410 l3,-3 l3,3 l3,-3" stroke="#333" stroke-width=".8" fill="none"/>
<rect class="b" x="862" y="388" width="14" height="4"/>
<rect class="c" x="833" y="395" width="8" height="18"/>
<rect x="841" y="396" width="64" height="17" fill="url(#gheat)" stroke="#444" stroke-width=".6"/>
<path d="M846,404.5 h55" stroke="#333" stroke-width=".4"/>
<circle cx="858" cy="404.5" r="1.3" fill="#222"/><circle cx="872" cy="404.5" r="1.3" fill="#222"/><circle cx="886" cy="404.5" r="1.3" fill="#222"/>
</g>
<g id="heat-outputs">
<rect class="b" x="881" y="350" width="16" height="4"/>
<rect class="c" x="876" y="358" width="27" height="19" rx="1.5"/><rect x="886" y="363" width="8" height="8" fill="#e03020"/>
<rect class="sk" x="813" y="372" width="20" height="5"/><rect class="s" x="833" y="372" width="37" height="5"/>
<rect class="b" x="920" y="390" width="26" height="4"/>
<rect class="c" x="922" y="398" width="21" height="29" rx="1.5"/><circle cx="932.5" cy="411" r="4" fill="#e04020"/>
<rect class="sk" x="850" y="420" width="20" height="5"/><rect class="s" x="870" y="420" width="35" height="5"/>
<rect class="b" x="950" y="352" width="20" height="4"/>
<rect class="cw" x="955" y="360" width="15" height="12" rx="1.5"/><rect x="961" y="364" width="6" height="5" fill="#30b030"/>
</g>
</svg>
